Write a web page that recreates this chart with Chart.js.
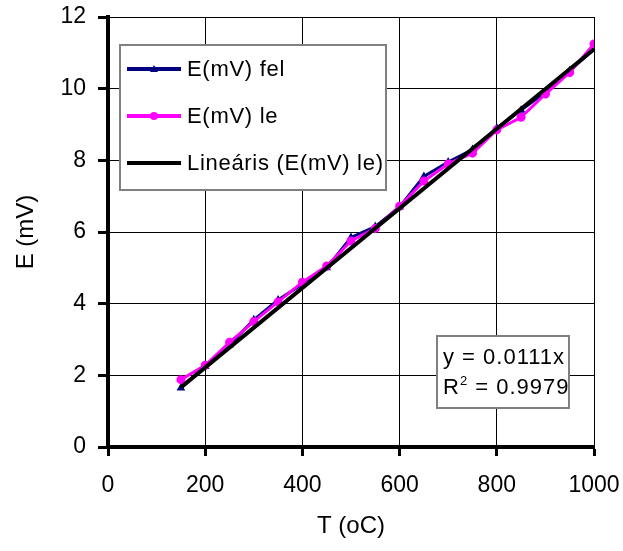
<!DOCTYPE html>
<html>
<head>
<meta charset="utf-8">
<script src="https://cdn.jsdelivr.net/npm/chart.js@4.4.1/dist/chart.umd.min.js"></script>
<style>
  html, body { margin: 0; padding: 0; background: #ffffff; }
  #wrap { width: 623px; height: 551px; }
</style>
</head>
<body>
<div id="wrap"><canvas id="thermoChart" width="623" height="551"></canvas></div>
<script>
// Temperature (oC) and measured voltage (mV)
const temps = [150, 200, 250, 300, 350, 400, 450, 500, 550, 600, 650, 700, 750, 800, 850, 900, 950, 1000];
const eFel = [1.65, 2.25, 2.85, 3.55, 4.1, 4.55, 5.0, 5.85, 6.15, 6.7, 7.55, 7.95, 8.3, 8.9, 9.4, 9.9, 10.5, 11.1];
const eLe = [1.88, 2.28, 2.92, 3.5, 4.05, 4.6, 5.05, 5.75, 6.1, 6.72, 7.42, 7.9, 8.2, 8.85, 9.2, 9.85, 10.45, 11.25];
const seriesNames = ['E(mV) fel', 'E(mV) le', 'Lineáris (E(mV) le)'];

// Linear fit through the origin
const slope = 0.0111;
const rSquared = '0.9979';
const trendX = [150, 1000];

const xTicks = [0, 200, 400, 600, 800, 1000];
const yTicks = [0, 2, 4, 6, 8, 10, 12];

const FONT = '"Liberation Sans", Arial, sans-serif';
const colors = ['#000080', '#ff00ff', '#000000'];

const toPoints = (xs, ys) => xs.map((x, i) => ({ x: x, y: ys[i] }));

// Legend box and equation label drawn inside the plot
const boxesPlugin = {
    id: 'boxes',
    afterDraw(chart) {
        const ctx = chart.ctx;
        ctx.save();

        // legend
        ctx.fillStyle = '#ffffff';
        ctx.fillRect(120, 45, 266, 145);
        ctx.strokeStyle = '#808080';
        ctx.lineWidth = 2;
        ctx.strokeRect(120, 45, 266, 145);
        const rows = [69, 116, 163];
        ctx.font = '22px ' + FONT;
        ctx.letterSpacing = '0.7px';
        ctx.textBaseline = 'middle';
        rows.forEach((y, i) => {
            ctx.strokeStyle = colors[i];
            ctx.lineWidth = 4;
            ctx.beginPath();
            ctx.moveTo(127, y);
            ctx.lineTo(181, y);
            ctx.stroke();
            if (i === 0) {
                ctx.fillStyle = colors[0];
                ctx.beginPath();
                ctx.moveTo(154, y - 4);
                ctx.lineTo(158, y + 3);
                ctx.lineTo(150, y + 3);
                ctx.closePath();
                ctx.fill();
            } else if (i === 1) {
                ctx.fillStyle = colors[1];
                ctx.beginPath();
                ctx.arc(154, y, 4, 0, Math.PI * 2);
                ctx.fill();
            }
            ctx.fillStyle = '#000000';
            ctx.fillText(seriesNames[i], 187, y + 1);
        });

        // equation
        ctx.fillStyle = '#ffffff';
        ctx.fillRect(437, 336, 132, 72);
        ctx.strokeStyle = '#808080';
        ctx.lineWidth = 2;
        ctx.strokeRect(437, 336, 132, 72);
        ctx.fillStyle = '#000000';
        ctx.font = '22px ' + FONT;
        ctx.letterSpacing = '1px';
        ctx.textAlign = 'left';
        ctx.fillText('y = ' + slope + 'x', 443, 358);
        ctx.fillText('R', 443, 388);
        const rw = ctx.measureText('R').width;
        ctx.font = '13px ' + FONT;
        ctx.fillText('2', 443 + rw, 381);
        const sw = ctx.measureText('2').width;
        ctx.font = '22px ' + FONT;
        ctx.fillText(' = ' + rSquared, 443 + rw + sw, 388);

        ctx.restore();
    }
};

const tickFont = { family: FONT, size: 23 };
const titleFont = { family: FONT, size: 24 };

new Chart(document.getElementById('thermoChart').getContext('2d'), {
    type: 'scatter',
    data: {
        datasets: [
            {
                label: seriesNames[2],
                data: trendX.map(x => ({ x: x, y: slope * x })),
                showLine: true,
                borderColor: colors[2],
                borderWidth: 4,
                pointRadius: 0,
                order: 0
            },
            {
                label: seriesNames[1],
                data: toPoints(temps, eLe),
                showLine: true,
                borderColor: colors[1],
                backgroundColor: colors[1],
                borderWidth: 3,
                pointStyle: 'circle',
                pointRadius: 3,
                order: 1
            },
            {
                label: seriesNames[0],
                data: toPoints(temps, eFel),
                showLine: true,
                borderColor: colors[0],
                backgroundColor: colors[0],
                borderWidth: 3,
                pointStyle: 'triangle',
                pointRadius: 2,
                order: 2
            }
        ]
    },
    options: {
        responsive: false,
        animation: false,
        layout: { padding: { left: 0, right: 29, top: 17, bottom: 0 } },
        plugins: {
            legend: { display: false },
            tooltip: { enabled: false }
        },
        scales: {
            x: {
                type: 'linear',
                min: 0,
                max: 1000,
                afterFit: scale => {
                    scale.height = 104;
                    scale.paddingLeft = 0;
                    scale.paddingRight = 0;
                },
                afterBuildTicks: scale => { scale.ticks = xTicks.map(v => ({ value: v })); },
                grid: { color: '#000000', lineWidth: 1, tickLength: 9, tickWidth: 3, tickColor: '#000000' },
                border: { color: '#000000', width: 4 },
                ticks: {
                    color: '#000000', font: tickFont, padding: 16, maxRotation: 0,
                    callback: v => String(v)
                },
                title: { display: true, text: 'T (oC)', color: '#000000', font: titleFont, padding: { top: 4, bottom: 10 } }
            },
            y: {
                min: 0,
                max: 12,
                afterFit: scale => {
                    scale.width = 108;
                    scale.paddingTop = 0;
                    scale.paddingBottom = 0;
                },
                afterBuildTicks: scale => { scale.ticks = yTicks.map(v => ({ value: v })); },
                grid: { color: '#000000', lineWidth: 1, tickLength: 10, tickWidth: 3, tickColor: '#000000' },
                border: { color: '#000000', width: 4 },
                ticks: { color: '#000000', font: tickFont, padding: 12, callback: v => String(v) },
                title: { display: true, text: 'E (mV)', color: '#000000', font: titleFont, padding: { top: 12, bottom: 4 } }
            }
        }
    },
    plugins: [boxesPlugin]
});
</script>
</body>
</html>
